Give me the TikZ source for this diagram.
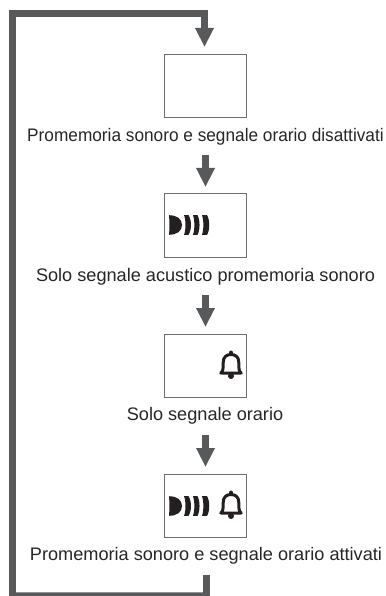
\documentclass[tikz,border=0pt]{standalone}
\usepackage{fontspec}
\setmainfont{Liberation Sans}
\usetikzlibrary{arrows.meta}
\definecolor{arrowgrey}{HTML}{58595B}
\definecolor{boxgrey}{HTML}{6D6E70}
\definecolor{icon}{HTML}{231F20}
\tikzset{
  x=1bp,y=-1bp,
  screen/.style={draw=boxgrey,line width=0.9bp,minimum width=82bp,minimum height=63.5bp,inner sep=0pt,fill=white},
  caption/.style={font=\fontsize{18.15bp}{21bp}\selectfont,text=black!85,inner sep=0pt,anchor=center},
  flow/.style={draw=arrowgrey,line width=6.4bp,-{Triangle[length=19bp,width=17.5bp]}},
  loopline/.style={draw=arrowgrey,line width=7bp,line cap=butt,line join=miter},
  loopthin/.style={draw=arrowgrey,line width=3.5bp},
  pics/bell/.style={code={
    \fill[icon] (0,-13) circle (2);
    \fill[icon] (0,10.5) circle (3);
    \draw[icon,line width=3bp,line join=round,fill=white]
      (-10.2,7.5) .. controls (-7.8,6) and (-7.8,3) .. (-7.8,-3)
      .. controls (-7.8,-9) and (-4,-11) .. (0,-11)
      .. controls (4,-11) and (7.8,-9) .. (7.8,-3)
      .. controls (7.8,3) and (7.8,6) .. (10.2,7.5) -- cycle;
  }},
  pics/sound/.style={code={
    \fill[icon] (0,-9.8) .. controls (8,-9.8) and (13,-6) .. (13,0)
      .. controls (13,6) and (8,9.8) .. (0,9.8) .. controls (0.6,4) and (0.6,-4) .. (0,-9.8) -- cycle;
    \fill[icon] (15,-9.8) .. controls (17,-5) and (17,5) .. (15,9.8)
      -- (19.5,9.8) .. controls (22.8,5) and (22.8,-5) .. (19.5,-9.8) -- cycle;
    \fill[icon] (24,-9.8) .. controls (25.8,-5) and (25.8,5) .. (24,9.8)
      -- (28.5,9.8) .. controls (31.2,5) and (31.2,-5) .. (28.5,-9.8) -- cycle;
    \fill[icon] (33,-9.8) .. controls (34.8,-5) and (34.8,5) .. (33,9.8)
      -- (38,9.8) .. controls (41,5) and (41,-5) .. (38,-9.8) -- cycle;
  }}
}
\begin{document}
\begin{tikzpicture}
\useasboundingbox (0,0) rectangle (385,596);
\node[screen] (b1) at (205.5,86) {};
\node[screen] (b2) at (205.5,225.5) {};
\node[screen] (b3) at (205.5,366) {};
\node[screen] (b4) at (205.5,506) {};
\node[caption,xscale=0.95] (t1) at (205.5,137) {Promemoria sonoro e segnale orario disattivati};
\node[caption] (t2) at (205.5,276.5) {Solo segnale acustico promemoria sonoro};
\node[caption] (t3) at (205,416) {Solo segnale orario};
\node[caption] (t4) at (206,556) {Promemoria sonoro e segnale orario attivati};
\pic at (169,225) {sound};
\pic at (231,365.5) {bell};
\pic at (169,506) {sound};
\pic at (231,505.5) {bell};
\coordinate (a0s) at (204.5,10);
\coordinate (a0e) at (204.5,47);
\coordinate (a1s) at (205.5,155);
\coordinate (a1e) at (205.5,187);
\coordinate (a2s) at (205.5,295);
\coordinate (a2e) at (205.5,327);
\coordinate (a3s) at (205.5,435);
\coordinate (a3e) at (205.5,467);
\coordinate (l0) at (206,575);
\coordinate (l1) at (206,594);
\coordinate (l2) at (12.7,594);
\coordinate (l3) at (12.7,13.5);
\coordinate (l4) at (208,13.5);
\draw[flow] (a0s) -- (a0e);
\draw[flow] (a1s) -- (a1e);
\draw[flow] (a2s) -- (a2e);
\draw[flow] (a3s) -- (a3e);
\draw[loopline] (l0) -- (206,596);
\draw[loopthin] (209.5,594.2) -- (l2);
\draw[loopline] (12.7,596) -- (l3) -- (l4);
\end{tikzpicture}
\end{document}
